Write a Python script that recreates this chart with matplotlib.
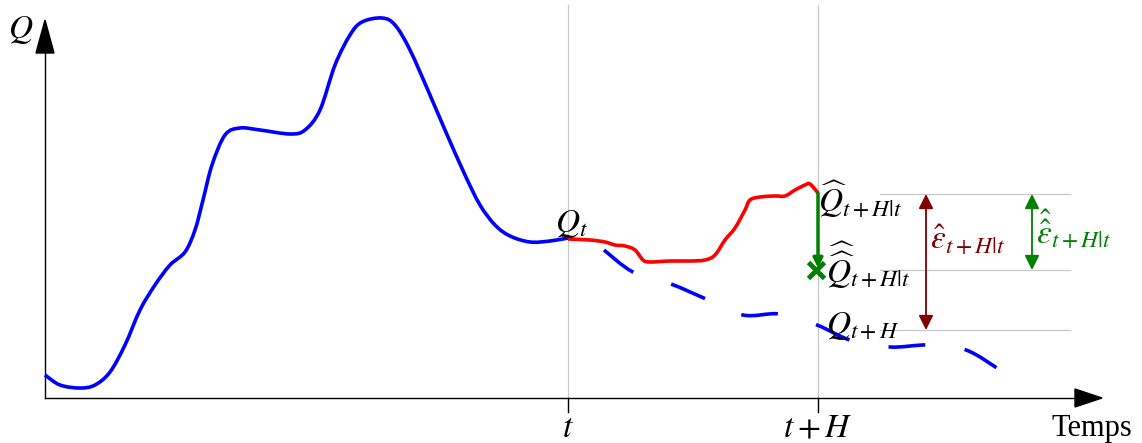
import matplotlib
matplotlib.use("Agg")
import matplotlib.pyplot as plt
from matplotlib.path import Path
from matplotlib.patches import PathPatch

plt.rcParams['mathtext.fontset'] = 'stix'
plt.rcParams['font.family'] = ['Liberation Serif', 'DejaVu Serif']

# Observed flow (solid blue) up to time t
obs_x = [45, 60, 80, 95, 110, 125, 140, 155, 170, 185, 195, 203, 212, 225, 240, 260, 290,
         305, 320, 335, 350, 362, 382, 395, 410, 430, 445, 465, 480, 495, 510, 530, 550, 568]
obs_y = [375, 385, 388, 385, 372, 345, 310, 285, 265, 252, 230, 200, 165, 135, 128, 130, 134,
         130, 110, 65, 35, 22, 18, 25, 50, 95, 130, 175, 205, 225, 236, 242, 241, 238]

# Forecast (red) from t to t+H
fc_x = [568, 590, 605, 615, 625, 635, 643, 650, 670, 690, 705, 715, 725, 735, 745, 750, 760,
        775, 785, 795, 805, 810, 818]
fc_y = [239, 240, 242, 245, 246, 250, 260, 262, 261, 261, 260, 255, 240, 228, 210, 200, 197,
        196, 196, 190, 185, 184, 193]

# Future observed flow (dashed blue)
fut_x = [604, 633, 671, 706, 743, 780, 817, 850, 890, 928, 966, 1000]
fut_y = [250, 272, 284, 299, 315, 314, 325, 340, 347, 345, 350, 370]

# Key levels
t_x, tH_x = 568, 818
qhat_y, qhathat_y, qobs_y = 194, 270, 330


def smooth_path(xs, ys):
    """Catmull-Rom curve through the given points, as cubic Bezier path."""
    pts = list(zip(xs, ys))
    verts = [pts[0]]
    codes = [Path.MOVETO]
    n = len(pts)
    for i in range(n - 1):
        p0 = pts[i - 1] if i > 0 else pts[i]
        p1 = pts[i]
        p2 = pts[i + 1]
        p3 = pts[i + 2] if i + 2 < n else pts[i + 1]
        c1 = (p1[0] + (p2[0] - p0[0]) / 6.0, p1[1] + (p2[1] - p0[1]) / 6.0)
        c2 = (p2[0] - (p3[0] - p1[0]) / 6.0, p2[1] - (p3[1] - p1[1]) / 6.0)
        verts += [c1, c2, p2]
        codes += [Path.CURVE4] * 3
    return Path(verts, codes)


fig = plt.figure(figsize=(11.42, 4.43), dpi=100)
ax = fig.add_axes([0, 0, 1, 1])
ax.set_xlim(0, 1142)
ax.set_ylim(443, 0)
ax.axis('off')

# vertical grey lines
for xv in (t_x, tH_x):
    ax.plot([xv, xv], [5, 398], color='#c8c8c8', lw=0.9, zorder=1)
    ax.plot([xv, xv], [398, 412], color='black', lw=1.0, zorder=2)

# horizontal grey lines
for yv in (qhat_y, qhathat_y, qobs_y):
    ax.plot([880, 1070], [yv, yv], color='#c8c8c8', lw=0.9, zorder=1)

# axes with arrows
ax.plot([45, 45], [398, 50], color='black', lw=1.0)
ax.plot([45, 1078], [398, 398], color='black', lw=1.0)
ax.add_patch(plt.Polygon([[36, 53], [54, 53], [45, 20]], closed=True, color='black'))
ax.add_patch(plt.Polygon([[1075, 389], [1075, 407], [1102, 398]], closed=True, color='black'))

# curves
ax.add_patch(PathPatch(smooth_path(obs_x, obs_y), fill=False, edgecolor='blue', lw=2.6, zorder=3))
ax.add_patch(PathPatch(smooth_path(fc_x, fc_y), fill=False, edgecolor='red', lw=2.6, zorder=3))
ax.add_patch(PathPatch(smooth_path(fut_x, fut_y), fill=False, edgecolor='blue', lw=2.6,
                       linestyle=(0, (10.2, 11.0)), capstyle='butt', zorder=3))

# green correction arrow
ax.annotate('', xy=(tH_x, 268), xytext=(tH_x, 193),
            arrowprops=dict(arrowstyle='-|>', color='green', lw=2.5, mutation_scale=14, shrinkA=0, shrinkB=0))
ax.plot([tH_x - 2], [qhathat_y], marker='x', color='green', ms=11, mew=3.5, zorder=5)

# error arrows
ax.annotate('', xy=(926, qobs_y), xytext=(926, qhat_y),
            arrowprops=dict(arrowstyle='<|-|>', color='#800000', lw=1.3, mutation_scale=22, shrinkA=0, shrinkB=0))
ax.annotate('', xy=(1032, qhathat_y), xytext=(1032, qhat_y),
            arrowprops=dict(arrowstyle='<|-|>', color='green', lw=1.3, mutation_scale=22, shrinkA=0, shrinkB=0))

fs = 24
ax.text(8, 38, r'$Q$', fontsize=fs, ha='left', va='baseline')
ax.text(555, 232, r'$Q_t$', fontsize=fs, ha='left', va='baseline')
ax.text(818, 212, r'$\widehat{Q}_{t+H|t}$', fontsize=fs, ha='left', va='baseline')
ax.text(826, 283, r'$\widehat{\widehat{Q}}_{t+H|t}$', fontsize=fs, ha='left', va='baseline')
ax.text(826, 334, r'$Q_{t+H}$', fontsize=fs, ha='left', va='baseline')
ax.text(930, 248, r'$\hat{\varepsilon}_{t+H|t}$', fontsize=fs, color='#800000', ha='left', va='baseline')
ax.text(1036, 243, r'$\hat{\hat{\varepsilon}}_{t+H|t}$', fontsize=fs, color='green', ha='left', va='baseline')

ax.text(t_x, 437, r'$t$', fontsize=fs, ha='center', va='baseline')
ax.text(tH_x, 437, r'$t+H$', fontsize=fs, ha='center', va='baseline')
ax.text(1092, 436, 'Temps', fontsize=22, ha='center', va='baseline')

fig.savefig('out.png', dpi=100)
